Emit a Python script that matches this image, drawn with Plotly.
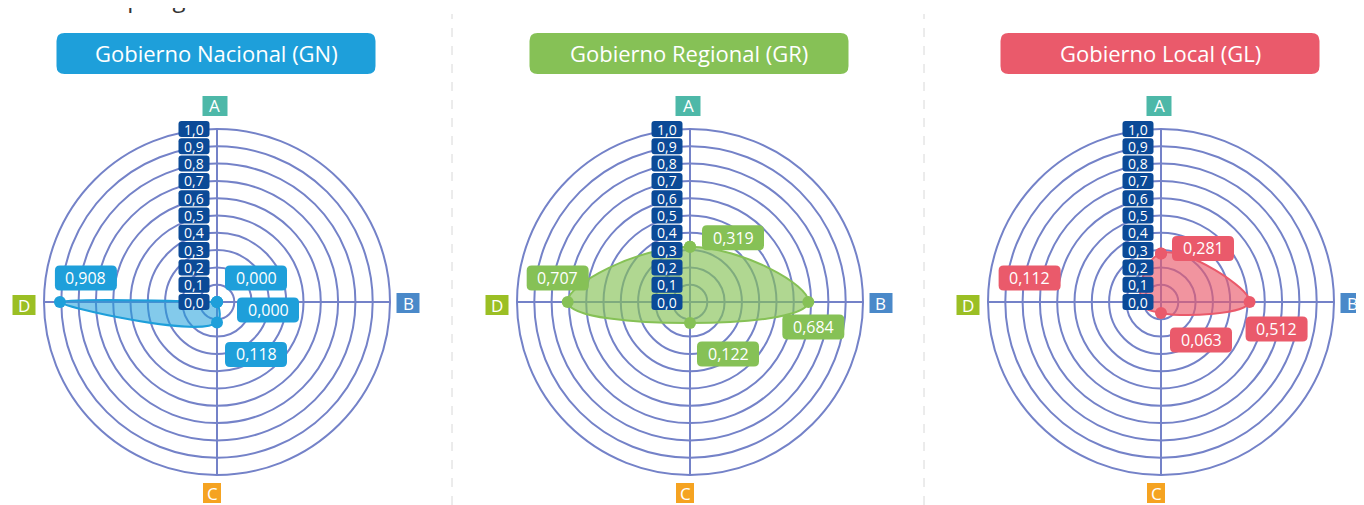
import math
import plotly.graph_objects as go

# data
categories = ["A", "B", "C", "D"]
panel_titles = ["Gobierno Nacional (GN)", "Gobierno Regional (GR)", "Gobierno Local (GL)"]
gn_values = [0.000, 0.000, 0.118, 0.908]
gr_values = [0.319, 0.684, 0.122, 0.707]
gl_values = [0.281, 0.512, 0.063, 0.112]
radial_ticks = [0.0, 0.1, 0.2, 0.3, 0.4, 0.5, 0.6, 0.7, 0.8, 0.9, 1.0]
heading = "Índice por gobierno"

# the page has an 8px body margin, so the figure starts at (8, 8)
PAGE_OFF = 8
W, H = 1364 - PAGE_OFF, 505 - PAGE_OFF
FONT = "Open Sans"
GRID = "#7482c8"
TICK_BG = "#0b4a97"

series_colors = ["#1e9fda", "#86c156", "#ea5a6b"]
fill_colors = ["rgba(30,159,218,0.55)", "rgba(134,193,86,0.65)", "rgba(234,90,107,0.65)"]
cat_colors = {"A": "#4db8a8", "B": "#4a89c9", "C": "#f5a321", "D": "#9bbf24"}

# page-pixel layout of each polar (centre x, centre y, radius)
centers = [217, 690, 1161]
CY, R = 302, 173

# offsets (px) of the value boxes from their points, per panel, order A B C D
label_offsets = [
    [(39, -24), (51, 8), (39, 32), (26, -24)],
    [(43, -9), (5, 25), (38, 31), (-10, -24)],
    [(42, -5), (27, 27), (40, 27), (-112, -24)],
]
# offsets of the category boxes from the centre
cat_offsets = {"A": (-2, -196), "B": (191, 1), "C": (-5, 191), "D": (-193, 3)}
cat_width = {"A": 25, "B": 23, "C": 18, "D": 23}
angles = {"A": 90, "B": 0, "C": -90, "D": 180}


def px(x):
    return (x - PAGE_OFF) / W


def py(y):
    return 1 - (y - PAGE_OFF) / H


def rounded_box(cx, cy, w, h, r, color):
    x0, x1 = cx - w / 2, cx + w / 2
    y0, y1 = cy - h / 2, cy + h / 2

    def p(x, y):
        return f"{px(x):.6f},{py(y):.6f}"

    path = (f"M {p(x0 + r, y0)} L {p(x1 - r, y0)} Q {p(x1, y0)} {p(x1, y0 + r)} "
            f"L {p(x1, y1 - r)} Q {p(x1, y1)} {p(x1 - r, y1)} "
            f"L {p(x0 + r, y1)} Q {p(x0, y1)} {p(x0, y1 - r)} "
            f"L {p(x0, y0 + r)} Q {p(x0, y0)} {p(x0 + r, y0)} Z")
    return dict(type="path", path=path, xref="paper", yref="paper",
                fillcolor=color, line=dict(width=0), layer="above")


def label(x, y, text, size):
    return dict(x=px(x), y=py(y), xref="paper", yref="paper", xanchor="center", yanchor="middle",
                text=text, showarrow=False, font=dict(family=FONT, size=size, color="white"))


def fmt(v):
    return f"{v:.3f}".replace(".", ",")


fig = go.Figure()
shapes = []
annotations = []

all_values = [gn_values, gr_values, gl_values]

for i, (vals, title) in enumerate(zip(all_values, panel_titles)):
    cx = centers[i]
    subplot = "polar" if i == 0 else f"polar{i + 1}"

    fig.add_trace(go.Scatterpolar(
        r=vals + [vals[0]],
        theta=categories + [categories[0]],
        mode="lines+markers",
        fill="toself",
        fillcolor=fill_colors[i],
        line=dict(color=series_colors[i], width=2, shape="spline", smoothing=1.3),
        marker=dict(size=12, color=series_colors[i]),
        subplot=subplot,
        showlegend=False,
        hoverinfo="skip",
    ))

    fig.update_layout(**{subplot: dict(
        domain=dict(x=[px(cx - R), px(cx + R)], y=[py(CY + R), py(CY - R)]),
        bgcolor="white",
        angularaxis=dict(
            type="category", categoryarray=categories, direction="clockwise", rotation=90,
            showticklabels=False, ticks="", showline=True, linecolor=GRID, linewidth=2,
            gridcolor=GRID, gridwidth=1.5,
        ),
        radialaxis=dict(
            range=[0, 1], dtick=0.1, showticklabels=False, ticks="", showline=False,
            gridcolor=GRID, gridwidth=2,
        ),
    )})

    # title box
    shapes.append(rounded_box(cx - 1, 53.5, 319, 41, 8, series_colors[i]))
    annotations.append(label(cx - 1, 53.5, title, 22))

    # radial tick boxes
    for t in radial_ticks:
        ty = CY - t * R
        shapes.append(rounded_box(cx - 23, ty, 31, 16, 3, TICK_BG))
        annotations.append(label(cx - 23, ty, f"{t:.1f}".replace(".", ","), 14))

    # category boxes
    for c in categories:
        ox, oy = cat_offsets[c]
        shapes.append(dict(type="rect", xref="paper", yref="paper",
                           x0=px(cx + ox - cat_width[c] / 2), x1=px(cx + ox + cat_width[c] / 2),
                           y0=py(CY + oy + 10), y1=py(CY + oy - 10),
                           fillcolor=cat_colors[c], line=dict(width=0), layer="above"))
        annotations.append(label(cx + ox, CY + oy, c, 17))

    # value boxes
    for j, c in enumerate(categories):
        a = math.radians(angles[c])
        vx = cx + vals[j] * R * math.cos(a)
        vy = CY - vals[j] * R * math.sin(a)
        ox, oy = label_offsets[i][j]
        shapes.append(rounded_box(vx + ox, vy + oy, 62, 25, 5, series_colors[i]))
        annotations.append(label(vx + ox, vy + oy, fmt(vals[j]), 16))

# dashed separators
for sx in [452, 924]:
    shapes.append(dict(type="line", xref="paper", yref="paper",
                       x0=px(sx), x1=px(sx), y0=0, y1=py(14),
                       line=dict(color="#d8d8d8", width=1, dash="dash")))

# heading cut off by the top edge
annotations.append(dict(x=px(52), y=py(16), xref="paper", yref="paper",
                        xanchor="left", yanchor="bottom", text=heading, showarrow=False,
                        font=dict(family=FONT, size=24, color="#333333")))

fig.update_layout(
    width=W, height=H,
    margin=dict(l=0, r=0, t=0, b=0),
    paper_bgcolor="white",
    shapes=shapes,
    annotations=annotations,
)

fig.write_html("out.html")
